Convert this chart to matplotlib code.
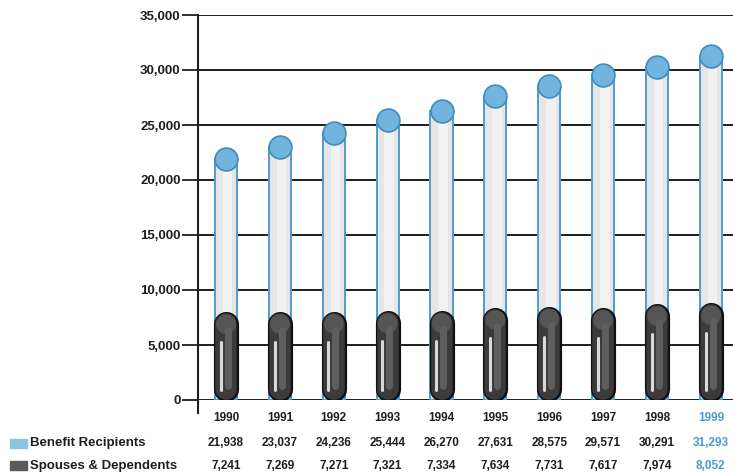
import matplotlib
matplotlib.use("Agg")
from matplotlib import pyplot as plt
from matplotlib.patches import Rectangle
import matplotlib.patheffects as pe
import numpy as np

years = ["1990", "1991", "1992", "1993", "1994", "1995", "1996", "1997", "1998", "1999"]
recipients = [21938, 23037, 24236, 25444, 26270, 27631, 28575, 29571, 30291, 31293]
spouses = [7241, 7269, 7271, 7321, 7334, 7634, 7731, 7617, 7974, 8052]
yticks = [0, 5000, 10000, 15000, 20000, 25000, 30000, 35000]

plt.rcParams['font.family'] = ['Liberation Sans', 'DejaVu Sans']
ink = "#1e1e1e"
blue = "#4a9bd0"

fig = plt.figure(figsize=(7.33, 4.75), dpi=100)
ax = fig.add_axes([198 / 733, 1 - 400 / 475, 1 - 198 / 733, 385 / 475])

x = np.arange(len(years))
w = 0.41
tube = 15.5  # tube thickness in points
cap = 270  # marker area for the spherical tops

# grid lines behind the tubes
for t in yticks:
    ax.axhline(t, color=ink, lw=1.4, zorder=1)

# tall light tubes (benefit recipients)
ax.bar(x, recipients, width=w, color="#e6e6e6", edgecolor="#4f9ccb", lw=1.4, zorder=2)
ax.bar(x + 0.03, np.array(recipients) - 1500, bottom=1500, width=0.18, color="#f1f1f1", lw=0, zorder=2.1)
ax.scatter(x, recipients, s=cap, color="#72b4de", edgecolors="#3f8cbf", lw=1.2, zorder=3)

# short dark tubes (spouses & dependents) drawn as round-capped strokes
outline = [pe.withStroke(linewidth=tube + 2.6, foreground="#101010")]
for xi, v in zip(x, spouses):
    ax.plot([xi, xi], [1000, v - 350], color="#3b3b3b", lw=tube, solid_capstyle="round",
            path_effects=outline, zorder=4)
    ax.plot([xi + 0.03, xi + 0.03], [1300, v - 900], color="#5e5e5e", lw=5, solid_capstyle="round", zorder=5)
    ax.plot([xi - 0.1, xi - 0.1], [900, v - 2000], color="#d9d9d9", lw=2.2, solid_capstyle="round", zorder=5)
ax.scatter(x, np.array(spouses) - 350, s=200, color="#555555", edgecolors="none", zorder=4.5)

ax.set_xlim(-0.52, 9.41)
ax.set_ylim(0, 35000)
ax.set_yticks(yticks)
ax.set_yticklabels(["0" if t == 0 else f"{t:,}" for t in yticks], fontsize=9.5, fontweight="bold", color=ink)
ax.tick_params(axis="y", direction="out", length=11.5, width=1.3, color=ink, pad=1)
ax.set_xticks([])
for s in ["top", "right", "bottom", "left"]:
    ax.spines[s].set_visible(False)
ax.plot([0, 0], [-0.035, 1], transform=ax.transAxes, color=ink, lw=1.5, clip_on=False, zorder=7)

# table under the chart
tr = ax.get_xaxis_transform()
for i, yr in enumerate(years):
    c = blue if i == len(years) - 1 else ink
    ax.text(i, -0.047, yr, transform=tr, ha="center", va="center", fontsize=8.5, fontweight="bold", color=c)
    ax.text(i, -0.112, f"{recipients[i]:,}", transform=tr, ha="center", va="center", fontsize=8.5, fontweight="bold", color=c)
    ax.text(i, -0.171, f"{spouses[i]:,}", transform=tr, ha="center", va="center", fontsize=8.5, fontweight="bold", color=c)

fig.patches.append(Rectangle((10 / 733, 1 - 448 / 475), 17 / 733, 9 / 475, transform=fig.transFigure, color="#8cc4e6"))
fig.patches.append(Rectangle((10 / 733, 1 - 470 / 475), 17 / 733, 9 / 475, transform=fig.transFigure, color="#5a5a5a"))
fig.text(30 / 733, 1 - 443 / 475, "Benefit Recipients", ha="left", va="center", fontsize=9.5, fontweight="bold", color=ink)
fig.text(30 / 733, 1 - 466 / 475, "Spouses & Dependents", ha="left", va="center", fontsize=9.5, fontweight="bold", color=ink)

fig.savefig("out.png", dpi=100)
